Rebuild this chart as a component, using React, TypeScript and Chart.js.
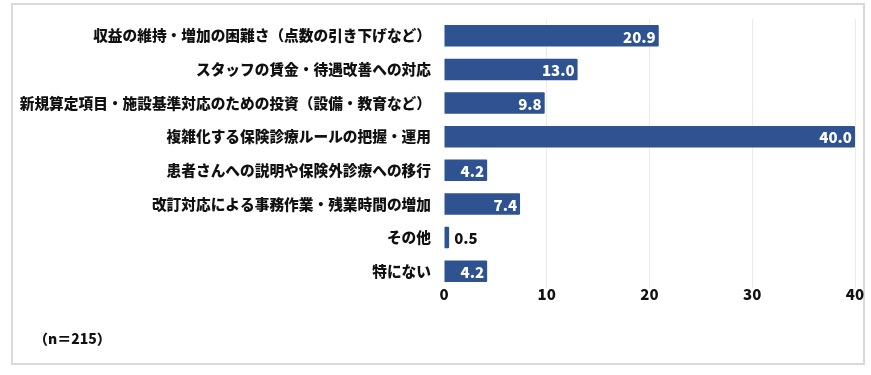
import React, { useEffect, useRef } from "react";
import { Chart, registerables } from "chart.js";

Chart.register(...registerables);

const categories = [
  "収益の維持・増加の困難さ（点数の引き下げなど）",
  "スタッフの賃金・待遇改善への対応",
  "新規算定項目・施設基準対応のための投資（設備・教育など）",
  "複雑化する保険診療ルールの把握・運用",
  "患者さんへの説明や保険外診療への移行",
  "改訂対応による事務作業・残業時間の増加",
  "その他",
  "特にない",
];
const values = [20.9, 13.0, 9.8, 40.0, 4.2, 7.4, 0.5, 4.2];
const xTicks = [0, 10, 20, 30, 40];
const sampleNote = "（n＝215）";

const FONT = "'Noto Sans CJK JP', 'Noto Sans', sans-serif";
const BAR = "#2F5291";

const labelPlugin = {
  id: "barLabels",
  afterDatasetsDraw(chart: any) {
    const ctx = chart.ctx;
    const meta = chart.getDatasetMeta(0);
    ctx.save();
    ctx.font = `900 15px ${FONT}`;
    ctx.textBaseline = "middle";
    meta.data.forEach((bar: any, i: number) => {
      const v = values[i];
      const txt = v.toFixed(1);
      const w = ctx.measureText(txt).width;
      const barW = bar.x - bar.base;
      if (barW > w + 8) {
        ctx.fillStyle = "#ffffff";
        ctx.textAlign = "right";
        ctx.fillText(txt, bar.x - 3, bar.y + 1);
      } else {
        ctx.fillStyle = "#111111";
        ctx.textAlign = "left";
        ctx.fillText(txt, bar.x + 5, bar.y + 1);
      }
    });
    ctx.restore();
  },
};

export default function App() {
  const ref = useRef<HTMLCanvasElement>(null);
  useEffect(() => {
    if (!ref.current) return;
    const chart = new Chart(ref.current, {
      type: "bar",
      data: {
        labels: categories,
        datasets: [
          {
            data: values,
            backgroundColor: BAR,
            borderRadius: 1,
            barPercentage: 0.8,
            categoryPercentage: 0.8,
          },
        ],
      },
      options: {
        indexAxis: "y",
        animation: false,
        responsive: false,
        layout: { padding: { left: 0, right: 13, top: 14, bottom: 0 } },
        plugins: { legend: { display: false }, tooltip: { enabled: false } },
        scales: {
          x: {
            min: 0,
            max: 40,
            afterBuildTicks: (axis: any) => {
              axis.ticks = xTicks.map((v) => ({ value: v }));
            },
            grid: {
              color: (c: any) => (c.tick && c.tick.value === 0 ? "rgba(0,0,0,0)" : "#ebebeb"),
              drawTicks: false,
              lineWidth: 1,
            },
            border: { display: false },
            ticks: {
              color: "#111",
              font: { family: FONT, size: 15, weight: "900" },
              padding: -3,
            },
            afterFit: (axis: any) => {
              axis.height = 75;
            },
          },
          y: {
            grid: { display: false },
            border: { display: false },
            ticks: {
              color: "#111",
              font: { family: FONT, size: 14.7, weight: "900" },
              padding: 5,
              autoSkip: false,
            },
            afterFit: (axis: any) => {
              axis.width = 431;
            },
          },
        },
      },
      plugins: [labelPlugin],
    } as any);
    return () => chart.destroy();
  }, []);

  return (
    <div
      style={{
        position: "absolute",
        left: 11,
        top: 3,
        width: 850,
        height: 358,
        border: "2px solid #d9d9d9",
        background: "#fff",
      }}
    >
      <canvas
        ref={ref}
        width={855}
        height={358}
        style={{ display: "block", position: "absolute", left: 0, top: 0 }}
      />
      <div
        style={{
          position: "absolute",
          left: 21,
          top: 323,
          fontFamily: FONT,
          fontWeight: 900,
          fontSize: 14,
          color: "#111",
        }}
      >
        {sampleNote}
      </div>
    </div>
  );
}
